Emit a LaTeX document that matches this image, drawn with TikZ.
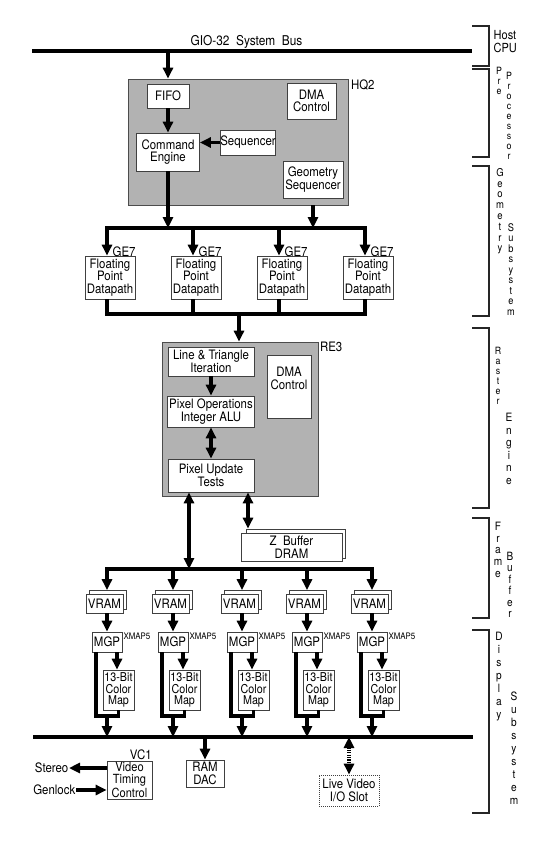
\documentclass[tikz,border=0pt]{standalone}
\usepackage{fontspec}
\setmainfont{TeX Gyre Heros}[FakeStretch=0.88]
\usetikzlibrary{arrows.meta,calc}
\begin{document}
\begin{tikzpicture}[x=1pt,y=-1pt,
  box/.style={draw=black!75, line width=0.7pt, fill=white, align=center, inner sep=0pt, font=\fontsize{13}{12.5}\selectfont},
  chip/.style={draw=black!70, line width=0.7pt, fill=black!30, inner sep=0pt},
  lab/.style={inner sep=0.5pt, font=\fontsize{13}{12.5}\selectfont},
  xmap/.style={inner sep=0.5pt, font=\fontsize{9}{9}\selectfont},
  conn/.style={line width=3.2pt, black},
  arr/.style={conn, -{Triangle[width=10pt,length=11pt]}},
  darr/.style={conn, {Triangle[width=10pt,length=11pt]}-{Triangle[width=10pt,length=11pt]}},
  bus/.style={line width=4.6pt},
  gbus/.style={line width=4pt, line cap=rect},
  brk/.style={line width=1.2pt, black!85},
  vlab/.style={inner sep=0pt, align=center, anchor=north},
]
\fill[white] (0,0) rectangle (545,860);
\useasboundingbox (0,0) rectangle (545,860);

% ---------- system bus ----------
\coordinate (sbL) at (32,51);
\coordinate (sbR) at (472,51);
\draw[bus] (sbL) -- (sbR);
\node[lab, font=\fontsize{13.5}{14}\selectfont] (sblab) at (246.5,42) {GIO-32\ \ System\ \ Bus};

% ---------- HQ2 ----------
\node[chip, minimum width=220pt, minimum height=126pt] (hq2) at (238,142) {};
\node[lab, anchor=north west] (hq2lab) at ($(hq2.north east)+(2,0)$) {HQ2};
\node[box, minimum width=42pt, minimum height=24pt] (fifo) at (168,96) {FIFO};
\node[box, minimum width=63pt, minimum height=38pt] (ce) at (168,152) {Command\\Engine};
\node[box, minimum width=55pt, minimum height=25pt] (seq) at (248,142.5) {Sequencer};
\node[box, minimum width=49pt, minimum height=36pt] (dma1) at (311.5,101) {DMA\\Control};
\node[box, minimum width=60pt, minimum height=37pt] (gs) at (313,179.5) {Geometry\\Sequencer};

\draw[arr] (sbL -| fifo) -- (fifo |- hq2.north);
\draw[arr] (fifo.south) -- (ce.north);
\draw[arr] (seq.west) -- (seq.west -| ce.east);

% ---------- Geometry engines ----------
\foreach \i/\cx in {1/107,2/193,3/279,4/365} {
  \coordinate (g\i) at (\cx,228);
  \coordinate (h\i) at (\cx,314);
}
\draw[gbus] (g1) -- (g4);
\draw[gbus] (h1) -- (h4);
\draw[arr] (ce.south) -- (ce.south |- g1);
\draw[arr] (gs |- hq2.south) -- (gs |- g1);
\foreach \i/\cx in {1/107,2/193,3/279,4/365} {
  \node[box, minimum width=50pt, minimum height=43pt] (fp\i) at (\cx+3,277.5) {Floating\\Point\\Datapath};
  \node[lab, anchor=south west] (ge\i) at (\cx+5,257.5) {GE7};
  \draw[arr] (g\i) -- (g\i |- fp\i.north);
  \draw[conn] (h\i |- fp\i.south) -- (h\i);
}
\coordinate (hm) at (239,314);

% ---------- RE3 ----------
\node[chip, minimum width=156pt, minimum height=154pt] (re3) at (240,419) {};
\draw[arr] (hm) -- (hm |- re3.north);
\node[lab, anchor=north west] (re3lab) at ($(re3.north east)+(1,0)$) {RE3};
\node[box, minimum width=86pt, minimum height=29pt] (lt) at (211,361.5) {Line \& Triangle\\Iteration};
\node[box, minimum width=87pt, minimum height=31pt] (po) at (211,411.5) {Pixel Operations\\Integer ALU};
\node[box, minimum width=86pt, minimum height=33pt] (pu) at (211,475.5) {Pixel Update\\Tests};
\node[box, minimum width=44pt, minimum height=63pt] (dma2) at (289,386.5) {DMA\\Control\\\strut};
\draw[arr] (lt.south) -- (po.north);
\draw[darr] (po.south) -- (pu.north);

% ---------- Frame buffer ----------
\coordinate (vx) at (189,569);
\draw[darr] (pu.south -| vx) -- (vx);
\node[box, minimum width=99pt, minimum height=29pt] (zbb) at (295.5,543.5) {};
\node[box, minimum width=101pt, minimum height=28pt] (zb) at (291.5,547) {Z\ \ Buffer\\DRAM};
\coordinate (zx) at (248,0);
\draw[darr] (pu.south -| zx) -- (zx |- zbb.north);

\foreach \i/\cx in {1/107,2/173,3/242,4/307,5/372} {
  \coordinate (vb\i) at (\cx,569);
}
\draw[gbus] (vb1) -- (vb5);

% ---------- Display ----------
\coordinate (dbL) at (33,737);
\coordinate (dbR) at (473,737);
\draw[bus] (dbL) -- (dbR);

\foreach \i/\cx in {1/107,2/173,3/242,4/307,5/372} {
  \node[box, minimum width=37pt, minimum height=19pt] (vramb\i) at (\cx+1,600) {};
  \node[box, minimum width=37pt, minimum height=19pt] (vram\i) at (\cx-2.5,603.5) {VRAM};
  \draw[arr] (vb\i) -- (vb\i |- vramb\i.north);
  \node[box, minimum width=30pt, minimum height=20pt] (mgp\i) at (\cx,642) {MGP};
  \node[xmap, anchor=north west] (xm\i) at ($(mgp\i.north east)+(0.5,1)$) {XMAP5};
  \draw[arr] (vram\i.south -| mgp\i) -- (mgp\i.north);
  \node[box, minimum width=31pt, minimum height=40pt, font=\fontsize{12.2}{11.6}\selectfont] (cm\i) at (\cx+11.5,690) {13-Bit\\Color\\Map};
  \coordinate (ma\i) at (\cx+10,652);
  \draw[arr] (ma\i) -- (ma\i |- cm\i.north);
  \coordinate (ul\i) at (\cx-11,716);
  \draw[conn] (ul\i |- mgp\i.south) -- (ul\i) -- (ul\i -| cm\i) -- (cm\i.south);
  \coordinate (ub\i) at (\cx,716);
  \draw[arr] (ub\i) -- (ub\i |- dbL);
}

\node[box, minimum width=38pt, minimum height=27pt] (dac) at (205,773.5) {RAM\\DAC};
\draw[arr] (dbL -| dac) -- (dac.north);
\node[box, minimum width=45pt, minimum height=38pt, font=\fontsize{12.6}{12}\selectfont] (vc) at (129.5,780) {Video\\Timing\\Control};
\node[lab, anchor=south east] (vclab) at (vc.north east) {VC1};
\node[lab, anchor=east] (stereo) at (69,768) {Stereo};
\node[lab, anchor=east] (genlock) at (76,790) {Genlock};
\draw[arr] (stereo -| vc.west) -- (stereo.east);
\draw[arr] (genlock.east) -- (genlock -| vc.west);
\node[box, dash pattern=on 1pt off 1pt, minimum width=60pt, minimum height=31pt] (live) at (349,790.5) {Live Video\\I/O Slot};
\draw[darr, dash pattern=on 1.2pt off 1.2pt] (dbL -| live) -- (live.north);

% ---------- right-hand brackets ----------
\draw[brk] (472,26) -| (489,66) -- (472,66);
\draw[brk] (472,69) -| (489,157) -- (472,157);
\draw[brk] (472,166) -| (489,316) -- (472,316);
\draw[brk] (472,328) -| (489,508) -- (472,508);
\draw[brk] (472,518) -| (489,618) -- (472,618);
\draw[brk] (472,630) -| (489,813) -- (472,813);

\node[lab, anchor=west, align=left, font=\fontsize{12.5}{12.5}\selectfont] (lhost) at (493,41.5) {Host\\CPU};
\node[vlab, font=\fontsize{10}{10}\selectfont] (lpre) at (499,67) {P\\r\\e};
\node[vlab, font=\fontsize{10}{10}\selectfont] (lproc) at (509,72) {P\\r\\o\\c\\e\\s\\s\\o\\r};
\node[vlab, font=\fontsize{10.8}{10.8}\selectfont] (lgeo) at (500,168) {G\\e\\o\\m\\e\\t\\r\\y};
\node[vlab, font=\fontsize{10.5}{10.5}\selectfont] (lsub1) at (511,223) {S\\u\\b\\s\\y\\s\\t\\e\\m};
\node[vlab, font=\fontsize{10}{10}\selectfont] (lras) at (498,347) {R\\a\\s\\t\\e\\r};
\node[vlab, font=\fontsize{11.5}{12.5}\selectfont] (leng) at (509,413) {E\\n\\g\\i\\n\\e};
\node[vlab, font=\fontsize{11.5}{11.7}\selectfont] (lfra) at (498,522) {F\\r\\a\\m\\e};
\node[vlab, font=\fontsize{11.4}{11.4}\selectfont] (lbuf) at (510,552) {B\\u\\f\\f\\e\\r};
\node[vlab, font=\fontsize{11.5}{13}\selectfont] (ldis) at (499,632) {D\\i\\s\\p\\l\\a\\y};
\node[vlab, font=\fontsize{11.5}{13}\selectfont] (lsub2) at (514,692) {S\\u\\b\\s\\y\\s\\t\\e\\m};
\end{tikzpicture}
\end{document}
